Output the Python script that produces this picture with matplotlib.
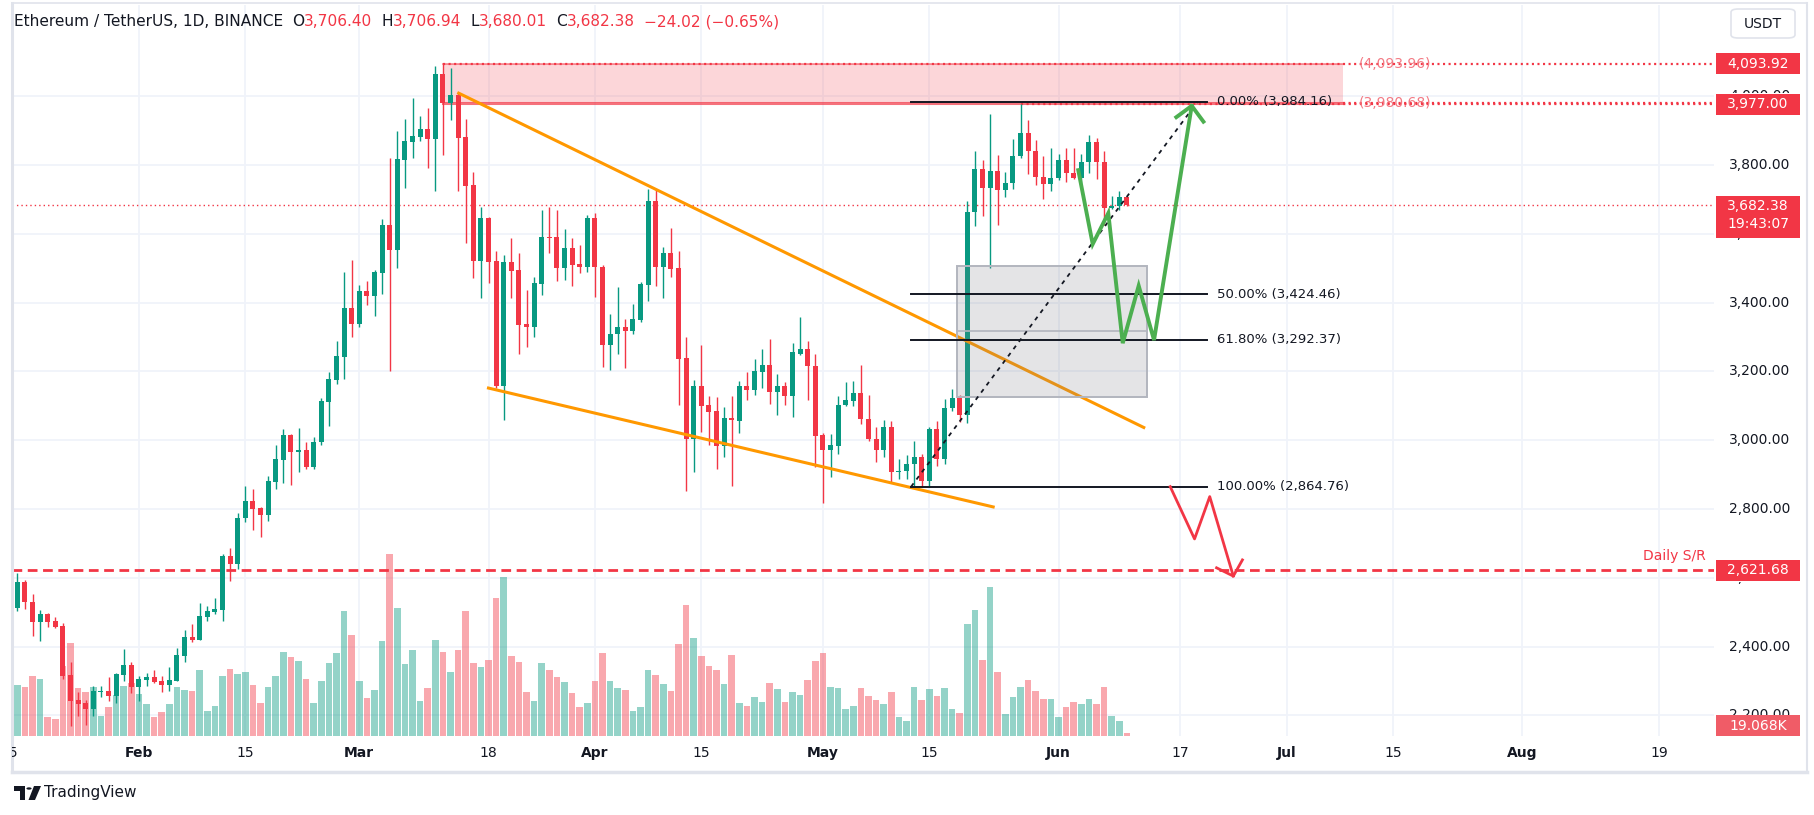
import matplotlib
matplotlib.use("Agg")
import matplotlib.pyplot as plt
import matplotlib.transforms as mtransforms
from matplotlib.patches import Rectangle, Polygon, Circle, FancyBboxPatch
import pandas as pd

plt.rcParams["font.family"] = ["DejaVu Sans"]
plt.rcParams["lines.scale_dashes"] = False

W, H = 1814, 815

# ETH/USDT daily candles, Jan 15 .. Jun 10 2024
dates = pd.date_range("2024-01-15", "2024-06-10", freq="D")
opens = [2473, 2512, 2589, 2531, 2472, 2494, 2473, 2459, 2317, 2245, 2236, 2219, 2269, 2271, 2257, 2317, 2346,
         2283, 2303, 2311, 2300, 2288, 2300, 2372, 2427, 2418, 2486, 2500, 2505, 2662, 2639, 2773, 2824, 2804, 2784,
         2879, 2943, 3015, 2966, 2972, 2922, 2994, 3112, 3176, 3243, 3384,
         3337, 3433, 3418, 3485, 3627, 3552, 3815, 3868, 3882, 3905, 3876, 4065, 3979, 4004, 3882, 3743, 3520, 3645,
         3520, 3158, 3517, 3494, 3337, 3329, 3453, 3592, 3590, 3500, 3560, 3511, 3503,
         3646, 3504, 3276, 3310, 3328, 3316, 3348, 3452, 3696, 3504, 3545, 3501, 3238, 3004, 3157, 3102, 3084, 2984,
         3064, 3055, 3157, 3145, 3197, 3220, 3139, 3157, 3128, 3252, 3264, 3217,
         3015, 2971, 2984, 3101, 3113, 3136, 3061, 3004, 2972, 3039, 2908, 2911, 2930, 2951, 2880, 3033, 2944, 3094,
         3123, 3072, 3662, 3789, 3734, 3784, 3726, 3749, 3827, 3894, 3842, 3766, 3746,
         3763, 3815, 3778, 3763, 3810, 3868, 3810, 3676, 3680, 3706.40]
highs = [2540, 2615, 2595, 2552, 2505, 2498, 2485, 2468, 2355, 2268, 2245, 2285, 2285, 2311, 2323, 2392, 2355,
         2314, 2323, 2332, 2314, 2340, 2395, 2447, 2465, 2526, 2517, 2540, 2668, 2688, 2787, 2868, 2859, 2807, 2897,
         2986, 3033, 3018, 3036, 2994, 3009, 3123, 3198, 3288, 3488, 3523,
         3450, 3462, 3494, 3642, 3820, 3900, 3935, 3995, 3943, 3966, 4088, 4096, 4082, 4013, 3934, 3781, 3679, 3648,
         3549, 3537, 3589, 3543, 3436, 3474, 3668, 3679, 3668, 3613, 3587, 3566, 3655,
         3660, 3510, 3368, 3444, 3351, 3397, 3461, 3730, 3727, 3562, 3617, 3551, 3301, 3174, 3278, 3128, 3125, 3096,
         3128, 3171, 3197, 3235, 3264, 3293, 3191, 3168, 3284, 3357, 3287, 3252,
         3020, 3018, 3128, 3168, 3171, 3220, 3131, 3039, 3059, 3056, 2946, 2958, 2999, 2960, 3039, 3056, 3120, 3149,
         3130, 3694, 3842, 3815, 3949, 3830, 3781, 3876, 3977, 3931, 3873, 3827, 3850,
         3833, 3850, 3850, 3833, 3888, 3879, 3842, 3711, 3723, 3706.94]
lows = [2460, 2503, 2509, 2431, 2417, 2456, 2454, 2306, 2170, 2199, 2173, 2199, 2254, 2243, 2237, 2300, 2266,
        2243, 2285, 2294, 2268, 2271, 2300, 2355, 2413, 2418, 2474, 2494, 2474, 2592, 2627, 2762, 2740, 2720, 2766,
        2859, 2876, 2871, 2908, 2917, 2917, 2985, 3040, 3162, 3179, 3301,
        3330, 3392, 3361, 3424, 3202, 3500, 3734, 3821, 3871, 3792, 3723, 3830, 3931, 3723, 3572, 3471, 3413, 3456,
        3152, 3059, 3413, 3250, 3271, 3300, 3421, 3543, 3462, 3465, 3447, 3485, 3490,
        3415, 3212, 3203, 3252, 3209, 3310, 3345, 3406, 3449, 3412, 3475, 3101, 2852, 2907, 3023, 2986, 2917, 2952,
        2868, 3020, 3116, 3130, 3151, 3104, 3073, 3101, 3067, 3249, 3116, 2923,
        2818, 2894, 2961, 3099, 3099, 3046, 2998, 2937, 2952, 2877, 2888, 2888, 2865, 2864, 2866, 2924, 2930, 3085,
        3053, 3050, 3624, 3653, 3502, 3627, 3708, 3731, 3821, 3775, 3743, 3702, 3723,
        3755, 3752, 3760, 3737, 3778, 3760, 3627, 3673, 3668, 3680.01]
closes = [2514, 2589, 2530, 2472, 2494, 2472, 2456, 2314, 2243, 2233, 2219, 2271, 2271, 2257, 2320, 2346, 2283,
          2305, 2311, 2297, 2288, 2303, 2375, 2427, 2418, 2488, 2503, 2508, 2662, 2639, 2775, 2824, 2801, 2784, 2882,
          2946, 3015, 2966, 2972, 2922, 2994, 3114, 3178, 3245, 3384, 3337,
          3433, 3418, 3488, 3627, 3552, 3818, 3871, 3885, 3905, 3876, 4065, 3979, 4004, 3879, 3740, 3520, 3645, 3517,
          3158, 3517, 3491, 3334, 3329, 3456, 3592, 3587, 3500, 3560, 3508, 3503, 3646,
          3503, 3276, 3310, 3328, 3316, 3351, 3455, 3696, 3504, 3545, 3499, 3235, 3004, 3157, 3099, 3081, 2984, 3064,
          3058, 3157, 3145, 3200, 3220, 3139, 3157, 3128, 3255, 3264, 3215, 3012,
          2971, 2986, 3101, 3116, 3136, 3061, 3004, 2972, 3039, 2908, 2911, 2932, 2951, 2880, 3033, 2944, 3094, 3123,
          3072, 3662, 3789, 3734, 3784, 3726, 3749, 3827, 3894, 3842, 3766, 3746, 3763,
          3815, 3778, 3763, 3810, 3868, 3810, 3676, 3680, 3706, 3682.38]
volume_k = [240, 292, 280, 343, 326, 109, 97, 400, 532, 275, 252, 280, 114, 166, 235, 286, 303,
            240, 183, 109, 137, 183, 280, 263, 257, 378, 143, 172, 343, 383, 355, 366, 292, 189, 280,
            343, 480, 452, 429, 326, 189, 315, 418, 475, 715, 578,
            315, 217, 263, 543, 1041, 732, 412, 492, 200, 275, 549, 480, 366, 492, 715, 418, 395, 435,
            789, 909, 458, 423, 252, 200, 418, 378, 337, 309, 246, 166, 189,
            315, 475, 315, 275, 263, 143, 166, 378, 349, 297, 257, 526, 749, 561, 458, 400, 378, 297,
            463, 189, 172, 223, 194, 303, 269, 194, 252, 235, 320, 429,
            475, 280, 275, 154, 172, 275, 229, 206, 183, 252, 109, 86, 280, 206, 269, 229, 275, 154,
            132, 641, 721, 435, 852, 366, 126, 223, 280, 320, 257, 212, 212,
            109, 166, 194, 183, 212, 183, 280, 114, 86, 19.068]

# axis ticks
price_ticks = [2200, 2400, 2600, 2800, 3000, 3200, 3400, 3600, 3800, 4000]
date_ticks = ["2024-01-15", "2024-02-01", "2024-02-15", "2024-03-01", "2024-03-18", "2024-04-01", "2024-04-15",
              "2024-05-01", "2024-05-15", "2024-06-01", "2024-06-17", "2024-07-01", "2024-07-15", "2024-08-01",
              "2024-08-19"]
date_tick_labels = ["15", "Feb", "15", "Mar", "18", "Apr", "15", "May", "15", "Jun", "17", "Jul", "15", "Aug", "19"]

# drawings (x in days from Feb 1, y in price)
zone_top, zone_bottom = 4093.96, 3980.68
zone_x = (40, 158.4)
fib_prices = [3984.16, 3424.46, 3292.37, 2864.76]
fib_names = ["0.00%", "50.00%", "61.80%", "100.00%"]
fib_x = (101.6, 140.5)
wedge_upper = ([41.9, 132.4], [4010.8, 3035])
wedge_lower = ([45.8, 112.6], [3152.6, 2805])
box_x, box_y, box_mid = (107.7, 132.6), (3125, 3506), 3316.5
green_x = [123.6, 125.5, 127.55, 129.45, 131.55, 133.57, 138.53]
green_y = [3785, 3570, 3660, 3282, 3449, 3291, 3972]
red_x = [135.7, 138.9, 140.9, 144.0]
red_y = [2865, 2713, 2836, 2605]
daily_sr = 2621.68
last_price = 3682.38
may27_high = 3977.00

UP, DOWN = "#089981", "#f23645"

day0 = pd.Timestamp("2024-02-01")
dx = [(d - day0).days for d in dates]
tick_dx = [(pd.Timestamp(t) - day0).days for t in date_ticks]

fig = plt.figure(figsize=(W / 100, H / 100), dpi=100)
fig.patch.set_facecolor("white")


def fx(x):
    return x / W


def fy(y):
    return 1 - y / H


def ypx(p):
    return 509 - (p - 2800) * 0.344


def px_clip(x0, y0, x1, y1):
    # clip box given in pixels from the top-left corner
    return mtransforms.TransformedBbox(mtransforms.Bbox([[fx(x0), fy(y1)], [fx(x1), fy(y0)]]), fig.transFigure)


L, R, T, B = 12, 1714, 5, 736
ax_vol = fig.add_axes([fx(L), fy(B), fx(R - L), (B - T) / H])
ax = ax_vol.twinx()
for a in (ax_vol, ax):
    a.set_xlim(-16.70, 207.25)
    for s in a.spines.values():
        s.set_visible(False)
    a.set_xticks([])
    a.set_yticks([])
ax.set_ylim(2800 - (B - 509) / 0.344, 2800 + (509 - T) / 0.344)
ax_vol.set_ylim(0, (B - T) * 5.72)

# grid
grid_tr = mtransforms.blended_transform_factory(ax_vol.transAxes, ax.transData)
for p in price_ticks:
    ax_vol.plot([0, 1], [p, p], transform=grid_tr, color="#f0f3fa", lw=1.3, zorder=0)
for t in tick_dx:
    ax_vol.axvline(t, color="#f0f3fa", lw=1.3, zorder=0)

# volume
vcol = [(0.031, 0.6, 0.506, 0.43) if c >= o else (0.949, 0.212, 0.271, 0.43) for o, c in zip(opens, closes)]
ax_vol.bar(dx, volume_k, width=0.86, color=vcol, zorder=1)

# supply zone
ax.add_patch(Rectangle((zone_x[0], zone_bottom), zone_x[1] - zone_x[0], zone_top - zone_bottom,
                       facecolor="#f23645", alpha=0.2, lw=0, zorder=1))
ax.plot(zone_x, [zone_top, zone_top], color="#f23645", alpha=0.6, lw=1.2, zorder=2)
ax.plot(zone_x, [zone_bottom, zone_bottom], color="#f23645", alpha=0.7, lw=2.2, zorder=2)

# candles
for d, o, h, l, c in zip(dx, opens, highs, lows, closes):
    col = UP if c >= o else DOWN
    ax.vlines(d, l, h, color=col, lw=1.0, zorder=3)
    ax.bar(d, max(abs(c - o), 3), bottom=min(o, c), width=0.66, color=col, zorder=3, lw=0)

# price lines
ax.axhline(last_price, color="#f23645", lw=1.0, ls=(0, (1, 2.2)), zorder=2)
ax.plot([zone_x[0], 300], [4093.92, 4093.92], color="#f23645", lw=1.6, ls=(0, (1.5, 2.5)), zorder=2)
ax.plot([zone_x[1], 300], [zone_bottom, zone_bottom], color="#f23645", lw=1.6, ls=(0, (1.5, 2.5)), zorder=2)
ax.plot([(pd.Timestamp("2024-05-27") - day0).days, 300], [may27_high, may27_high], color="#f23645", lw=1.6,
        ls=(0, (1.5, 2.5)), zorder=2)
ax.axhline(daily_sr, color="#f23645", lw=2.0, ls=(0, (7, 4)), zorder=2)
ax.text(206.2, daily_sr + 22, "Daily S/R", color="#f23645", fontsize=10, ha="right", va="bottom", zorder=6)
ax.text(160.5, 4093.96, "(4,093.96)", color="#f37983", fontsize=10, ha="left", va="center", zorder=6)
ax.text(160.5, 3980.68, "(3,980.68)", color="#f37983", fontsize=10, ha="left", va="center", zorder=6)

# wedge
ax.plot(*wedge_upper, color="#ff9800", lw=2.2, zorder=4, solid_capstyle="butt")
ax.plot(*wedge_lower, color="#ff9800", lw=2.2, zorder=4, solid_capstyle="butt")

# fib retracement
for p, n in zip(fib_prices, fib_names):
    ax.plot(fib_x, [p, p], color="#131722", lw=1.4, zorder=5)
    ax.text(fib_x[1] + 1.4, p, f"{n} ({p:,.2f})", fontsize=9.5, color="#131722", ha="left", va="center", zorder=6)
ax.plot([fib_x[0], 139.3], [fib_prices[3], fib_prices[0]], color="#131722", lw=1.3, ls=(0, (3, 3.5)), zorder=5)

# retracement box
ax.add_patch(Rectangle((box_x[0], box_y[0]), box_x[1] - box_x[0], box_y[1] - box_y[0],
                       facecolor="#787b86", alpha=0.2, edgecolor="none", zorder=4))
ax.add_patch(Rectangle((box_x[0], box_y[0]), box_x[1] - box_x[0], box_y[1] - box_y[0],
                       facecolor="none", edgecolor="#b2b5be", lw=1.4, zorder=4))
ax.plot(box_x, [box_mid, box_mid], color="#b2b5be", lw=1.2, zorder=4)

# scenario paths
ax.plot(green_x, green_y, color="#4caf50", lw=2.8, zorder=6, solid_joinstyle="miter")
ax.plot([136.5, green_x[-1], 140.07], [3939, green_y[-1], 3926], color="#4caf50", lw=2.8, zorder=6)
ax.plot(red_x, red_y, color="#f23645", lw=2.0, zorder=6)
ax.plot([141.8, red_x[-1], 145.2], [2629, red_y[-1], 2652], color="#f23645", lw=2.0, zorder=6)

# price scale labels, the ones behind the red boxes only show their uncovered part
covered = {4000: (0, 93), 3600: (238, 300), 2600: (582, 600), 2200: (700, 715)}
for p in price_ticks:
    t = fig.text(fx(1760), fy(ypx(p)), f"{p:,.2f}", fontsize=10, color="#131722", ha="center", va="center",
                 zorder=3)
    if p in covered:
        y0, y1 = covered[p]
        t.set_clip_box(px_clip(1716, y0, 1800, y1))
        t.set_clip_on(True)


def price_box(y, h, text, color):
    fig.add_artist(Rectangle((fx(1716), fy(y + h / 2)), fx(84), h / H, transform=fig.transFigure,
                             facecolor=color, edgecolor="none", zorder=5))
    fig.text(fx(1758), fy(y), text, fontsize=10, color="white", ha="center", va="center", zorder=6)


price_box(ypx(4093.92), 21, "4,093.92", "#f23645")
price_box(ypx(may27_high), 21, "3,977.00", "#f23645")
fig.add_artist(Rectangle((fx(1716), fy(238)), fx(84), 42 / H, transform=fig.transFigure,
                         facecolor="#f23645", edgecolor="none", zorder=5))
fig.text(fx(1758), fy(206), "3,682.38", fontsize=10, color="white", ha="center", va="center", zorder=6)
fig.text(fx(1758), fy(224), "19:43:07", fontsize=10, color="white", ha="center", va="center", zorder=6)
price_box(ypx(daily_sr), 21, "2,621.68", "#f23645")
price_box(725.5, 21, "19.068K", "#f05c67")

# time axis
clip = px_clip(L, 0, R, H)
for t, lab in zip(tick_dx, date_tick_labels):
    txt = fig.text(fx(138.9 + 7.6 * t), fy(753), lab, fontsize=10, color="#131722", ha="center", va="center",
                   fontweight="bold" if not lab.isdigit() else "normal")
    txt.set_clip_box(clip)
    txt.set_clip_on(True)

# frame
fc = "#e0e3eb"
fig.add_artist(plt.Line2D([fx(L), fx(L)], [fy(3), fy(772)], color=fc, lw=2.2))
fig.add_artist(plt.Line2D([fx(L), fx(1807)], [fy(772), fy(772)], color=fc, lw=2.5))
fig.add_artist(plt.Line2D([fx(1807), fx(1807)], [fy(3), fy(772)], color=fc, lw=1.5))
fig.add_artist(plt.Line2D([fx(L), fx(1807)], [fy(3), fy(3)], color=fc, lw=1.2))

# header, pieces laid out one after another
renderer = fig.canvas.get_renderer()
hy = fy(22)
hx = 14
pieces = [("Ethereum / TetherUS, 1D, BINANCE", "#131722", 9), ("O", "#131722", 0), ("3,706.40", "#f23645", 9),
          ("H", "#131722", 0), ("3,706.94", "#f23645", 9), ("L", "#131722", 0), ("3,680.01", "#f23645", 9),
          ("C", "#131722", 0), ("3,682.38", "#f23645", 9), ("\u221224.02 (\u22120.65%)", "#f23645", 0)]
for s, col, gap in pieces:
    t = fig.text(fx(hx), hy, s, fontsize=11.1, color=col, va="center")
    hx += t.get_window_extent(renderer).width + gap

# currency button
fig.add_artist(FancyBboxPatch((fx(1731), fy(38)), fx(64), 29 / H, boxstyle="round,pad=0,rounding_size=0.004",
                              transform=fig.transFigure, facecolor="white", edgecolor=fc, lw=1.2))
fig.text(fx(1763), fy(23.5), "USDT", fontsize=10, color="#131722", ha="center", va="center")

# TradingView logo
fig.add_artist(Polygon([(fx(14), fy(786)), (fx(25), fy(786)), (fx(25), fy(800)), (fx(19.5), fy(800)),
                        (fx(19.5), fy(791)), (fx(14), fy(791))], closed=True, transform=fig.transFigure,
                       facecolor="#131722"))
fig.add_artist(Circle((fx(29), fy(788.5)), 2.6 / W, transform=fig.transFigure, facecolor="#131722"))
fig.add_artist(Polygon([(fx(34), fy(786)), (fx(41), fy(786)), (fx(35), fy(800)), (fx(28.5), fy(800))],
                       closed=True, transform=fig.transFigure, facecolor="#131722"))
fig.text(fx(44), fy(793), "TradingView", fontsize=11, color="#131722", va="center")

fig.savefig("out.png", dpi=100, facecolor="white")
